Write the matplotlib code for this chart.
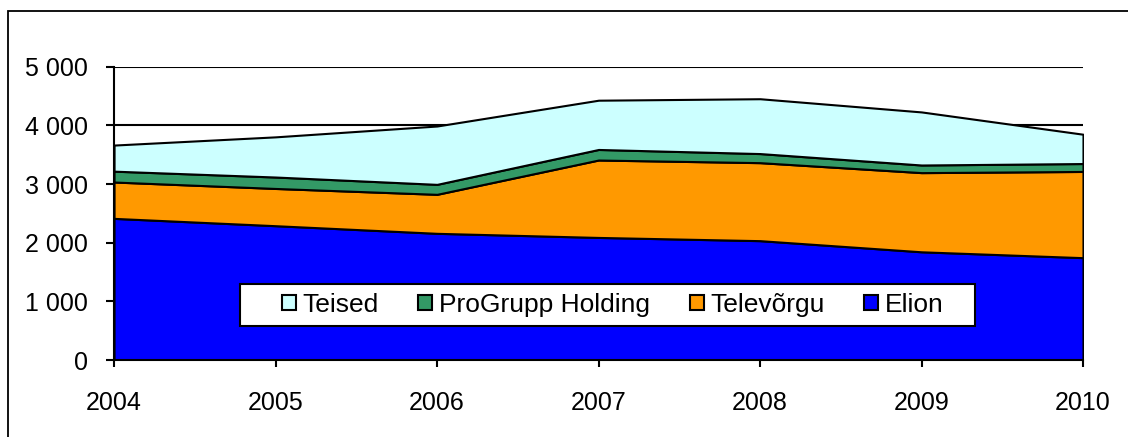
import numpy as np
import matplotlib.pyplot as plt
from matplotlib.patches import Rectangle
from matplotlib.ticker import FuncFormatter

plt.rcParams['font.family'] = ['Liberation Sans', 'DejaVu Sans']

years = [2004, 2005, 2006, 2007, 2008, 2009, 2010]
elion = [2415, 2290, 2160, 2090, 2035, 1845, 1745]
televorgu = [620, 635, 665, 1320, 1330, 1350, 1470]
progrupp = [185, 195, 170, 180, 155, 130, 135]
teised = [445, 685, 995, 840, 935, 905, 500]

names = ["Elion", "Televõrgu", "ProGrupp Holding", "Teised"]
colors = ["#0000FF", "#FF9900", "#339966", "#CCFFFF"]

fig = plt.figure(figsize=(11.28, 4.37), dpi=100)
ax = fig.add_axes([0.1011, 0.1762, 0.859, 0.671])

# figure frame (runs off the right and bottom edge)
fig.patches.append(Rectangle((8 / 1128, -0.1), 1.2, 1.1 - 11 / 437,
                             transform=fig.transFigure, fill=False,
                             edgecolor='black', linewidth=1.3))

polys = ax.stackplot(years, elion, televorgu, progrupp, teised,
                     colors=colors, labels=names,
                     edgecolor='black', linewidth=1.5, zorder=2)

ax.set_xlim(2004, 2010)
ax.set_ylim(0, 5000)
ax.set_yticks(np.arange(0, 5001, 1000))
ax.set_xticks(years)
ax.yaxis.set_major_formatter(FuncFormatter(lambda v, p: f"{int(v):,}".replace(",", " ")))
ax.grid(axis='y', color='black', linewidth=1.5, zorder=0)
ax.set_axisbelow(True)

for s in ['top', 'right']:
    ax.spines[s].set_visible(False)
ax.spines['left'].set_linewidth(1.5)
ax.spines['bottom'].set_linewidth(1.5)
ax.spines['left'].set_zorder(3)
ax.spines['bottom'].set_zorder(3)

ax.tick_params(axis='y', direction='out', length=6, width=1.5, pad=13, labelsize=18)
ax.tick_params(axis='x', direction='out', length=5, width=1.5, pad=17, labelsize=18)

# legend box
ax.add_patch(Rectangle((0.130, 0.117), 0.7585, 0.141, transform=ax.transAxes,
                       facecolor='white', edgecolor='black', linewidth=1.5,
                       zorder=4))

handles, labels = ax.get_legend_handles_labels()
leg = ax.legend(handles[::-1], labels[::-1], ncol=4, loc='center left',
                bbox_to_anchor=(0.1734, 0.1875), fontsize=19,
                frameon=False,
                handlelength=0.53, handleheight=0.53, handletextpad=0.25,
                columnspacing=1.5, borderpad=0, borderaxespad=0)
leg.set_zorder(5)
for h in leg.legend_handles:
    h.set_linewidth(1.5)

fig.savefig("out.png", dpi=100)
